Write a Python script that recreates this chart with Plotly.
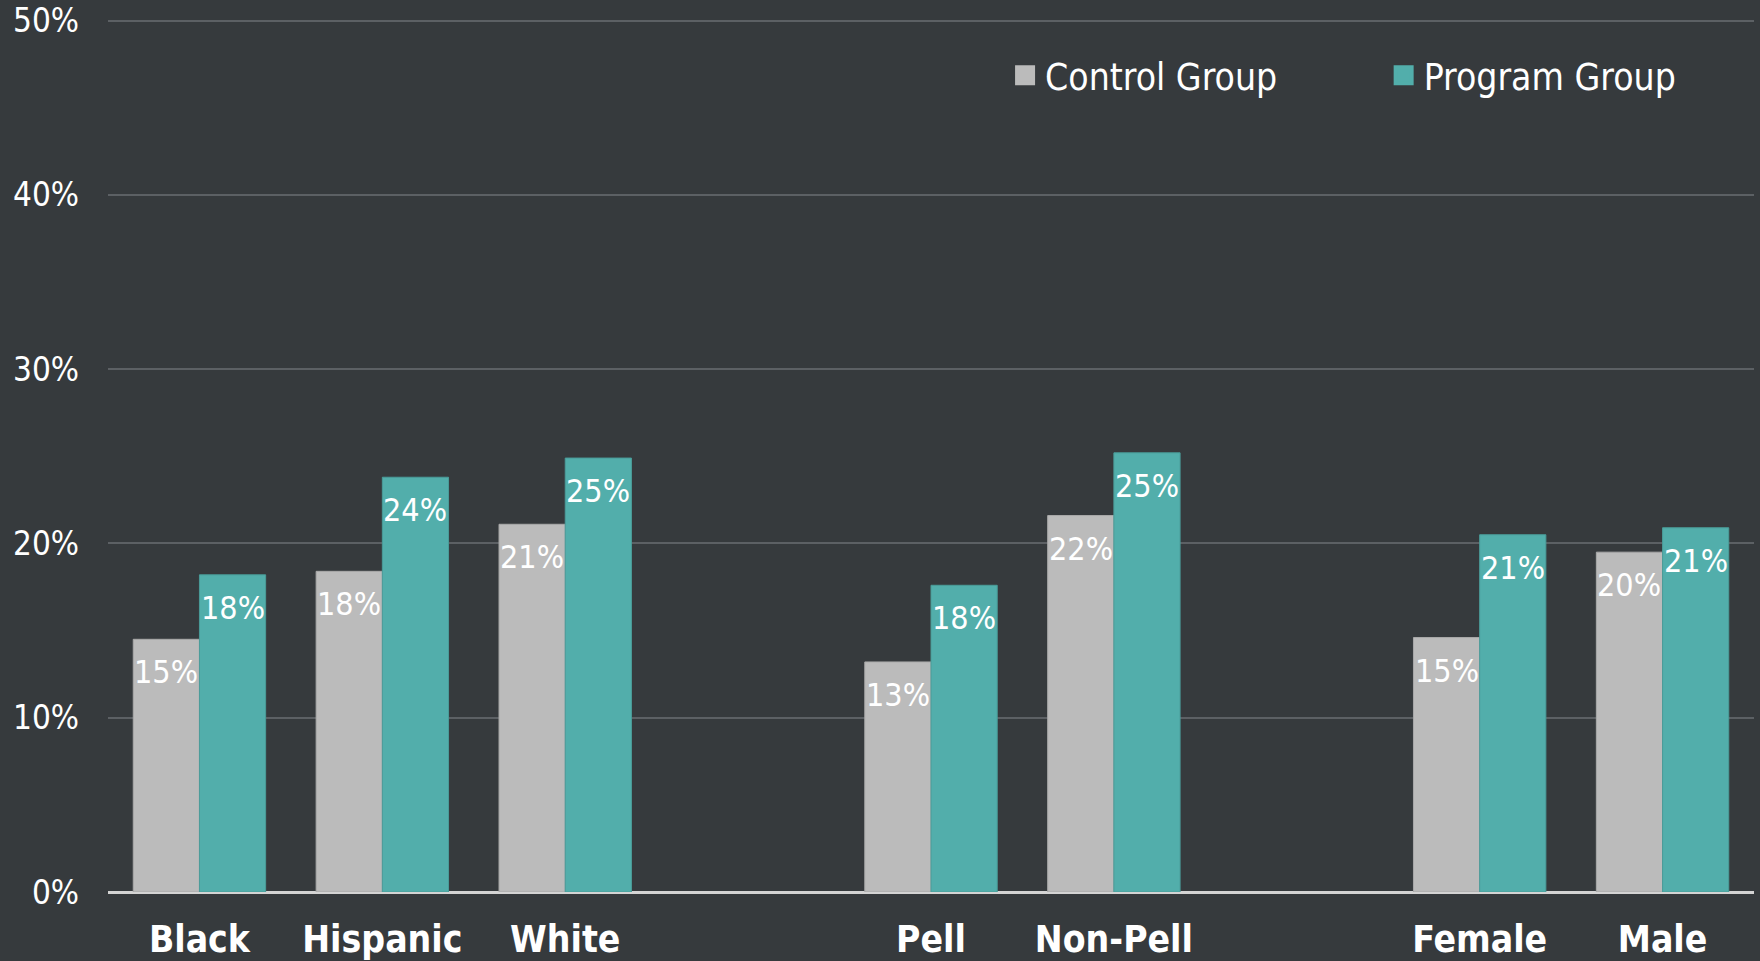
import plotly.graph_objects as go

# Completion rates by subgroup
categories = ["Black", "Hispanic", "White", "Pell", "Non-Pell", "Female", "Male"]
control_group = [14.5, 18.4, 21.1, 13.2, 21.6, 14.6, 19.5]
program_group = [18.2, 23.8, 24.9, 17.6, 25.2, 20.5, 20.9]
series_names = ["Control Group", "Program Group"]

# Axis order, with empty slots separating the three subgroup families
axis_order = ["Black", "Hispanic", "White", "sep-a", "Pell", "Non-Pell", "sep-b", "Female", "Male"]
y_ticks = [0, 10, 20, 30, 40, 50]
y_tick_labels = ["0%", "10%", "20%", "30%", "40%", "50%"]

BG = "#363a3d"
GRID = "#5c6064"
CONTROL = "#bbbbbb"
PROGRAM = "#52aeab"
FONT = "DejaVu Sans Condensed, DejaVu Sans, sans-serif"
BAR_GAP = 0.276

fig = go.Figure()
fig.add_trace(go.Bar(
    x=categories, y=control_group, name=series_names[0],
    marker=dict(color=CONTROL, line=dict(color="#a9a9a9", width=1)),
    showlegend=False, hoverinfo="skip",
))
fig.add_trace(go.Bar(
    x=categories, y=program_group, name=series_names[1],
    marker=dict(color=PROGRAM, line=dict(color="#4a9c99", width=1)),
    showlegend=False, hoverinfo="skip",
))

# Legend entries (square swatches) in two separate legends
for name, color, leg in [(series_names[0], CONTROL, "legend"), (series_names[1], PROGRAM, "legend2")]:
    fig.add_trace(go.Scatter(
        x=[None], y=[None], mode="markers", name=name, legend=leg,
        marker=dict(symbol="square", size=16, color=color, line=dict(color=color, width=4)),
        showlegend=True, hoverinfo="skip",
    ))

# Value labels just inside the top of each bar
half = (1 - BAR_GAP) / 4
annotations = []
for vals, sign in [(control_group, -1), (program_group, 1)]:
    for cat, v in zip(categories, vals):
        annotations.append(dict(
            x=axis_order.index(cat) + sign * half, y=v, xref="x", yref="y",
            text=f"{round(v + 1e-9):.0f}%", showarrow=False,
            yanchor="top", xanchor="center", yshift=-12,
            font=dict(family=FONT, size=32, color="white"),
        ))

legend_common = dict(
    orientation="h", yanchor="middle", xanchor="left",
    bgcolor="rgba(0,0,0,0)", borderwidth=0, itemsizing="trace",
    font=dict(family=FONT, size=37, color="white"),
)

fig.update_layout(
    width=1760, height=961,
    paper_bgcolor=BG, plot_bgcolor=BG,
    margin=dict(l=108, r=6, t=18, b=69, autoexpand=False),
    barmode="group", bargap=BAR_GAP, bargroupgap=0,
    annotations=annotations,
    legend=dict(x=0.545, y=0.934, **legend_common),
    legend2=dict(x=0.775, y=0.934, **legend_common),
    xaxis=dict(
        type="category", categoryorder="array", categoryarray=axis_order,
        range=[-0.5, len(axis_order) - 0.5],
        tickvals=categories, ticktext=[f"<b>{c}</b>" for c in categories],
        tickfont=dict(family=FONT, size=37, color="white"),
        showgrid=False, zeroline=False, showline=False, ticks="",
        ticklabelstandoff=22, automargin=False,
    ),
    yaxis=dict(
        range=[0, 50.15], tickvals=y_ticks, ticktext=y_tick_labels,
        tickfont=dict(family=FONT, size=33, color="white"),
        showgrid=True, gridcolor=GRID, gridwidth=1.5,
        zeroline=True, zerolinecolor="#d4d4d4", zerolinewidth=2.5,
        showline=False, ticks="", ticklabelstandoff=28, automargin=False,
    ),
)

fig.write_html("out.html")
